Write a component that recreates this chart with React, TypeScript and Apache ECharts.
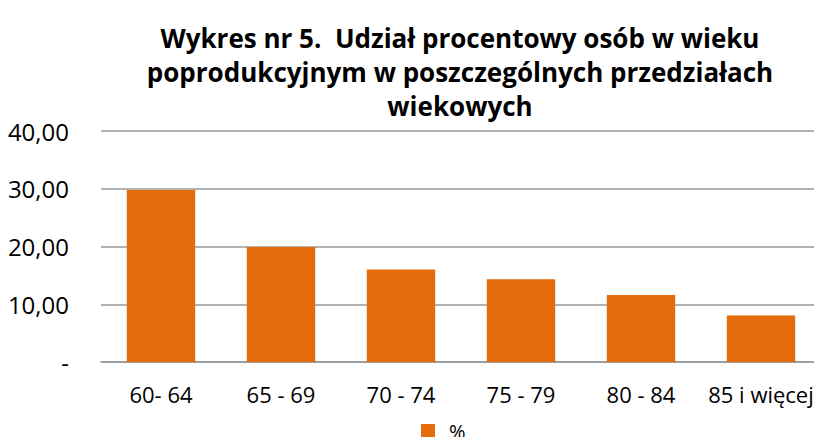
import React, { useEffect, useRef } from "react";
import * as echarts from "echarts";

const categories = ["60- 64", "65 - 69", "70 - 74", "75 - 79", "80 - 84", "85 i więcej"];
const values = [29.8, 19.9, 16.0, 14.35, 11.6, 8.05];
const seriesName = "%";
const titleText = "Wykres nr 5.  Udział procentowy osób w wieku\npoprodukcyjnym w poszczególnych przedziałach\nwiekowych";

export default function App() {
  const ref = useRef<HTMLDivElement>(null);
  useEffect(() => {
    const chart = echarts.init(ref.current!, null, { renderer: "svg" });
    chart.setOption({
      animation: false,
      title: {
        text: titleText,
        left: 455,
        top: 16,
        textAlign: "center",
        textStyle: {
          fontFamily: "Open Sans",
          fontWeight: "bold",
          fontSize: 26,
          lineHeight: 34,
          color: "#000",
        },
      },
      legend: {
        data: [seriesName],
        top: 421,
        left: 421,
        padding: 0,
        itemWidth: 14,
        itemHeight: 14,
        icon: "rect",
        textStyle: { fontFamily: "Open Sans", fontSize: 20, lineHeight: 20, color: "#000", padding: [0, 0, 0, 9] },
      },
      grid: { left: 101, right: 1, top: 131, bottom: 83 },
      xAxis: {
        type: "category",
        data: categories,
        axisTick: { show: false },
        axisLine: { lineStyle: { color: "#999", width: 1.5 } },
        axisLabel: { fontFamily: "Open Sans", fontSize: 22, color: "#000", margin: 21, interval: 0 },
      },
      yAxis: {
        type: "value",
        min: 0,
        max: 40,
        interval: 10,
        axisLine: { show: false },
        axisTick: { show: false },
        splitLine: { lineStyle: { color: "#999", width: 1.5 } },
        axisLabel: {
          fontFamily: "Open Sans",
          fontSize: 24,
          color: "#000",
          margin: 32,
          formatter: (v: number) => (v === 0 ? "-" : v.toFixed(2).replace(".", ",")),
        },
      },
      series: [
        {
          name: seriesName,
          type: "bar",
          data: values,
          barWidth: "57%",
          itemStyle: { color: "#E46C0A" },
        },
      ],
    });
    return () => chart.dispose();
  }, []);
  return <div ref={ref} style={{ width: 822, height: 445, margin: -8 }} />;
}
